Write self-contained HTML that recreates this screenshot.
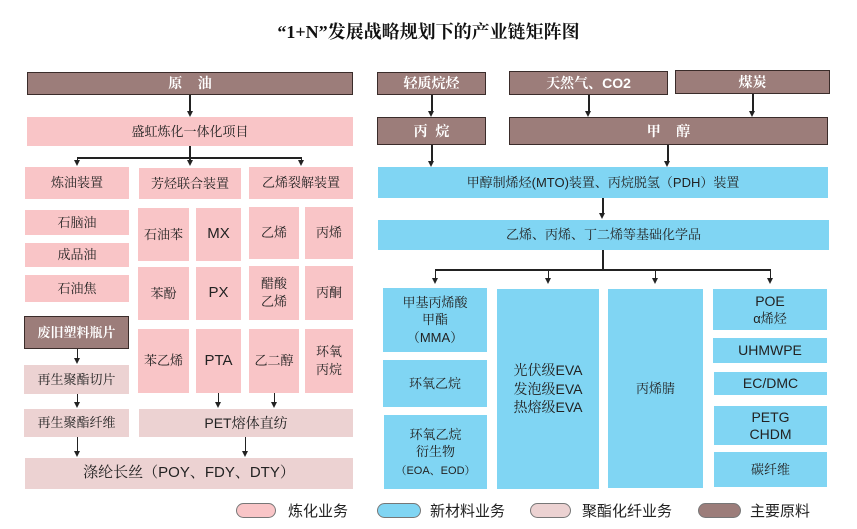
<!DOCTYPE html>
<html><head><meta charset="utf-8">
<style>
html,body{margin:0;padding:0;background:#fff;}
body{width:857px;height:529px;position:relative;overflow:hidden;font-family:"Liberation Sans","Noto Serif CJK SC","Noto Sans CJK SC",sans-serif;}
.b{position:absolute;display:flex;align-items:center;justify-content:center;text-align:center;font-size:13px;color:#222;line-height:1.35;box-sizing:border-box;}
.p{background:#f9c5c7;}
.m{background:#ecd2d2;}
.c{background:#80d5f3;}
.r{background:#9c7d7a;border:1.5px solid #3a2c2a;color:#fff;font-weight:bold;font-size:14px;}
.l{position:absolute;background:#222;}
.a{position:absolute;width:0;height:0;border-left:3.5px solid transparent;border-right:3.5px solid transparent;border-top:6px solid #222;}
.t{position:absolute;font-size:13px;color:#222;}
.pill{position:absolute;height:15px;border-radius:8px;border:1.5px solid #777;box-sizing:border-box;}
</style></head><body>
<div style="position:absolute;left:0;width:857px;top:18px;text-align:center;font-family:'Liberation Serif','Noto Serif CJK SC',serif;font-weight:bold;font-size:18px;color:#111;">“1+N”发展战略规划下的产业链矩阵图</div>

<!-- left -->
<div class="b r" style="left:27px;top:72px;width:326px;height:23px;">原 &nbsp;&nbsp;&nbsp;油</div>
<div class="l" style="left:189px;top:95px;width:2px;height:16px"></div><div class="a" style="left:186.5px;top:111px"></div>
<div class="b p" style="left:27px;top:117px;width:326px;height:29px;">盛虹炼化一体化项目</div>
<div class="l" style="left:189px;top:146px;width:2px;height:14px"></div>
<div class="l" style="left:77px;top:157px;width:225px;height:1.5px"></div>
<div class="l" style="left:76.5px;top:157px;width:1.5px;height:4px"></div><div class="a" style="left:73.5px;top:160px"></div>
<div class="a" style="left:186.5px;top:160px"></div>
<div class="l" style="left:300.5px;top:157px;width:1.5px;height:4px"></div><div class="a" style="left:297.5px;top:160px"></div>

<div class="b p" style="left:25px;top:167px;width:104px;height:32px;">炼油装置</div>
<div class="b p" style="left:139px;top:168px;width:102px;height:31px;">芳烃联合装置</div>
<div class="b p" style="left:249px;top:167px;width:104px;height:32px;">乙烯裂解装置</div>

<div class="b p" style="left:25px;top:210px;width:104px;height:25px;">石脑油</div>
<div class="b p" style="left:25px;top:243px;width:104px;height:24px;">成品油</div>
<div class="b p" style="left:25px;top:275px;width:104px;height:27px;">石油焦</div>

<div class="b p" style="left:138px;top:208px;width:51px;height:53px;">石油苯</div>
<div class="b p" style="left:196px;top:208px;width:45px;height:53px;font-size:15px;">MX</div>
<div class="b p" style="left:249px;top:207px;width:50px;height:52px;">乙烯</div>
<div class="b p" style="left:305px;top:207px;width:48px;height:52px;">丙烯</div>
<div class="b p" style="left:138px;top:267px;width:51px;height:53px;">苯酚</div>
<div class="b p" style="left:196px;top:267px;width:45px;height:53px;font-size:15px;">PX</div>
<div class="b p" style="left:249px;top:266px;width:50px;height:54px;"><div>醋酸<br>乙烯</div></div>
<div class="b p" style="left:305px;top:266px;width:48px;height:54px;">丙酮</div>
<div class="b p" style="left:138px;top:329px;width:51px;height:64px;">苯乙烯</div>
<div class="b p" style="left:196px;top:329px;width:45px;height:64px;font-size:15px;">PTA</div>
<div class="b p" style="left:249px;top:329px;width:50px;height:64px;">乙二醇</div>
<div class="b p" style="left:305px;top:329px;width:48px;height:64px;"><div>环氧<br>丙烷</div></div>

<div class="b r" style="left:24px;top:316px;width:105px;height:33px;font-size:13px;">废旧塑料瓶片</div>
<div class="l" style="left:76.5px;top:349px;width:1.5px;height:10px"></div><div class="a" style="left:73.5px;top:358px"></div>
<div class="b m" style="left:24px;top:365px;width:105px;height:29px;">再生聚酯切片</div>
<div class="l" style="left:76.5px;top:394px;width:1.5px;height:9px"></div><div class="a" style="left:73.5px;top:402px"></div>
<div class="b m" style="left:24px;top:409px;width:105px;height:28px;">再生聚酯纤维</div>
<div class="l" style="left:217.5px;top:393px;width:1.5px;height:10px"></div><div class="a" style="left:214.5px;top:402px"></div>
<div class="l" style="left:273.5px;top:393px;width:1.5px;height:10px"></div><div class="a" style="left:270.5px;top:402px"></div>
<div class="b m" style="left:139px;top:409px;width:214px;height:28px;font-size:14px;">PET熔体直纺</div>
<div class="l" style="left:76.5px;top:437px;width:1.5px;height:15px"></div><div class="a" style="left:73.5px;top:451px"></div>
<div class="l" style="left:244.5px;top:437px;width:1.5px;height:15px"></div><div class="a" style="left:241.5px;top:451px"></div>
<div class="b m" style="left:25px;top:458px;width:328px;height:31px;font-size:15px;">涤纶长丝（POY、FDY、DTY）</div>

<!-- right -->
<div class="b r" style="left:377px;top:72px;width:109px;height:23px;">轻质烷烃</div>
<div class="b r" style="left:509px;top:71px;width:159px;height:24px;">天然气、CO2</div>
<div class="b r" style="left:675px;top:70px;width:155px;height:24px;">煤炭</div>
<div class="l" style="left:431px;top:95px;width:1.5px;height:16px"></div><div class="a" style="left:428px;top:111px"></div>
<div class="l" style="left:588px;top:95px;width:1.5px;height:16px"></div><div class="a" style="left:585px;top:111px"></div>
<div class="l" style="left:752px;top:94px;width:1.5px;height:17px"></div><div class="a" style="left:749px;top:111px"></div>
<div class="b r" style="left:377px;top:117px;width:109px;height:28px;">丙 &nbsp;烷</div>
<div class="b r" style="left:509px;top:117px;width:319px;height:28px;">甲 &nbsp;&nbsp;&nbsp;醇</div>
<div class="l" style="left:431px;top:145px;width:1.5px;height:16px"></div><div class="a" style="left:428px;top:161px"></div>
<div class="l" style="left:667px;top:145px;width:1.5px;height:16px"></div><div class="a" style="left:664px;top:161px"></div>
<div class="b c" style="left:378px;top:167px;width:450px;height:31px;">甲醇制烯烃(MTO)装置、丙烷脱氢（PDH）装置</div>
<div class="l" style="left:602px;top:198px;width:1.5px;height:16px"></div><div class="a" style="left:599px;top:213px"></div>
<div class="b c" style="left:378px;top:220px;width:451px;height:30px;">乙烯、丙烯、丁二烯等基础化学品</div>
<div class="l" style="left:602px;top:250px;width:2px;height:20px"></div>
<div class="l" style="left:435px;top:269px;width:336px;height:1.5px"></div>
<div class="l" style="left:434.5px;top:269px;width:1.5px;height:10px"></div><div class="a" style="left:431.5px;top:278px"></div>
<div class="l" style="left:547.5px;top:269px;width:1.5px;height:10px"></div><div class="a" style="left:544.5px;top:278px"></div>
<div class="l" style="left:654.5px;top:269px;width:1.5px;height:10px"></div><div class="a" style="left:651.5px;top:278px"></div>
<div class="l" style="left:769.5px;top:269px;width:1.5px;height:10px"></div><div class="a" style="left:766.5px;top:278px"></div>

<div class="b c" style="left:383px;top:288px;width:104px;height:64px;"><div>甲基丙烯酸<br>甲酯<br>（MMA）</div></div>
<div class="b c" style="left:383px;top:360px;width:104px;height:47px;">环氧乙烷</div>
<div class="b c" style="left:384px;top:415px;width:103px;height:74px;"><div>环氧乙烷<br>衍生物<br><span style="font-size:11px">（EOA、EOD）</span></div></div>
<div class="b c" style="left:497px;top:289px;width:102px;height:200px;font-size:14px;"><div>光伏级EVA<br>发泡级EVA<br>热熔级EVA</div></div>
<div class="b c" style="left:608px;top:289px;width:95px;height:199px;">丙烯腈</div>
<div class="b c" style="left:713px;top:289px;width:114px;height:41px;line-height:1.2;font-size:14px;"><div>POE<br><span style="font-size:13px">α烯烃</span></div></div>
<div class="b c" style="left:713px;top:338px;width:114px;height:25px;font-size:14px;">UHMWPE</div>
<div class="b c" style="left:714px;top:372px;width:113px;height:23px;font-size:14px;">EC/DMC</div>
<div class="b c" style="left:714px;top:406px;width:113px;height:39px;line-height:1.2;font-size:14px;"><div>PETG<br>CHDM</div></div>
<div class="b c" style="left:714px;top:452px;width:113px;height:35px;">碳纤维</div>

<!-- legend -->
<div class="pill" style="left:236px;top:503px;width:40px;background:#f9c5c7;"></div>
<div class="t" style="left:288px;top:500px;font-size:15px;font-family:'Noto Sans CJK SC',sans-serif;">炼化业务</div>
<div class="pill" style="left:377px;top:503px;width:44px;background:#80d5f3;"></div>
<div class="t" style="left:430px;top:500px;font-size:15px;font-family:'Noto Sans CJK SC',sans-serif;">新材料业务</div>
<div class="pill" style="left:530px;top:503px;width:41px;background:#ecd2d2;"></div>
<div class="t" style="left:582px;top:500px;font-size:15px;font-family:'Noto Sans CJK SC',sans-serif;">聚酯化纤业务</div>
<div class="pill" style="left:698px;top:503px;width:43px;background:#9c7d7a;"></div>
<div class="t" style="left:750px;top:500px;font-size:15px;font-family:'Noto Sans CJK SC',sans-serif;">主要原料</div>
</body></html>
